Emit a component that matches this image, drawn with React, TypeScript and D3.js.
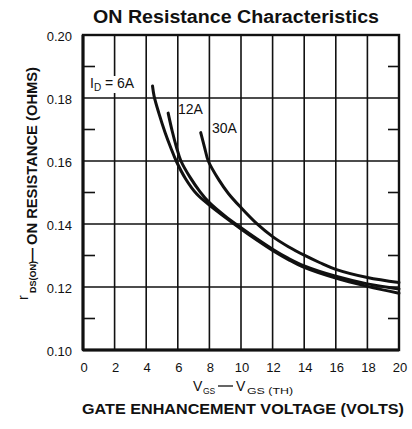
import React from "react";
import * as d3 from "d3";

type Pt = [number, number];

const xTicks = [0, 2, 4, 6, 8, 10, 12, 14, 16, 18, 20];
const yTicks = [0.1, 0.12, 0.14, 0.16, 0.18, 0.2];
const yMinorTicks = [0.11, 0.13, 0.15, 0.17, 0.19];

const series6A: Pt[] = [
  [4.4, 0.1838], [4.5, 0.1806], [4.8, 0.1752], [5.2, 0.169], [5.55, 0.1643],
  [5.9, 0.16], [6.5, 0.1543], [7.2, 0.1495], [8, 0.146], [9, 0.1421],
  [10, 0.1384], [11, 0.1349], [12, 0.1316], [13, 0.1287], [14, 0.1262],
  [16, 0.1228], [18, 0.1202], [20, 0.118],
];
const series12A: Pt[] = [
  [5.39, 0.1752], [5.64, 0.1696], [5.92, 0.1643], [6.2, 0.16], [6.78, 0.1548],
  [7.4, 0.1503], [8, 0.1468], [9, 0.1425], [10, 0.1388], [11, 0.1353],
  [12, 0.132], [13, 0.1291], [14, 0.1267], [16, 0.1234], [18, 0.121], [20, 0.1194],
];
const series30A: Pt[] = [
  [7.45, 0.169], [7.7, 0.1642], [7.93, 0.16], [8.6, 0.154], [9.2, 0.1497],
  [10, 0.1452], [11, 0.1401], [12, 0.136], [13, 0.1328], [14, 0.1301],
  [15, 0.1277], [16, 0.1256], [18, 0.123], [20, 0.1214],
];

const W = 412;
const H = 429;
const L = 83, R = 399, T = 35, B = 350;

export default function App() {
  const x = d3.scaleLinear().domain([0, 20]).range([L, R]);
  const y = d3.scaleLinear().domain([0.1, 0.2]).range([B, T]);
  const line = d3
    .line<Pt>()
    .x((d) => x(d[0]))
    .y((d) => y(d[1]))
    .curve(d3.curveCatmullRom.alpha(0.5));
  const font = "'Liberation Sans', Arial, Helvetica, sans-serif";
  const ink = "#111";
  return (
    <svg
      width={W}
      height={H}
      style={{ position: "absolute", left: 0, top: 0, background: "#fff" }}
      fontFamily={font}
    >
      <rect x={0} y={0} width={W} height={H} fill="#fff" />
      <text
        x={236}
        y={22.5}
        textAnchor="middle"
        fontWeight="bold"
        fontSize={17.5}
        textLength={286}
        lengthAdjust="spacingAndGlyphs"
        fill={ink}
      >
        ON Resistance Characteristics
      </text>

      {/* vertical grid */}
      {xTicks.map((t) => (
        <line key={"vx" + t} x1={x(t)} x2={x(t)} y1={T} y2={B} stroke={ink} strokeWidth={1.6} />
      ))}
      {/* horizontal grid */}
      {yTicks.map((t) => (
        <line key={"hy" + t} x1={L} x2={R} y1={y(t)} y2={y(t)} stroke={ink} strokeWidth={1.6} />
      ))}
      {yMinorTicks.map((t) => (
        <g key={"mt" + t}>
          <line x1={L} x2={L + 12} y1={y(t)} y2={y(t)} stroke={ink} strokeWidth={1.6} />
          <line x1={R - 11} x2={R} y1={y(t)} y2={y(t)} stroke={ink} strokeWidth={1.6} />
        </g>
      ))}
      {/* frame */}
      <rect x={L} y={T} width={R - L} height={B - T} fill="none" stroke={ink} strokeWidth={2.4} />
      <line x1={L} x2={L} y1={T} y2={B} stroke={ink} strokeWidth={3} />
      <line x1={L} x2={R} y1={B} y2={B} stroke={ink} strokeWidth={3} />

      {/* tick labels */}
      {yTicks.map((t) => (
        <text key={"yl" + t} x={72} y={y(t) + 5.5} textAnchor="end" fontSize={13} fill={ink}>
          {t.toFixed(2)}
        </text>
      ))}
      {xTicks.map((t) => (
        <text key={"xl" + t} x={x(t) + 1} y={372} textAnchor="middle" fontSize={13} fill={ink}>
          {t}
        </text>
      ))}

      {/* curves */}
      {[series6A, series12A, series30A].map((s, i) => (
        <path key={"c" + i} d={line(s) || ""} fill="none" stroke={ink} strokeWidth={3} strokeLinecap="round" />
      ))}

      {/* curve labels */}
      <rect x={88} y={76} width={54} height={17} fill="#fff" />
      <text x={90} y={88} fontSize={14} fill={ink}>
        I<tspan fontSize={10} dy={3}>D</tspan>
        <tspan dy={-3}> = 6A</tspan>
      </text>
      <text x={178} y={114} fontSize={14} fill={ink}>12A</text>
      <text x={212} y={133} fontSize={14} fill={ink}>30A</text>

      {/* x axis labels */}
      <text x={193} y={391} fontSize={14} fill={ink}>V</text>
      <text x={203} y={394} fontSize={8.5} fill={ink}>GS</text>
      <line x1={218} x2={233} y1={386} y2={386} stroke={ink} strokeWidth={1.3} />
      <text x={236} y={391} fontSize={14} fill={ink}>V</text>
      <text x={247} y={394} fontSize={9.5} fill={ink} textLength={46} lengthAdjust="spacingAndGlyphs">GS (TH)</text>
      <text
        x={243}
        y={413.5}
        textAnchor="middle"
        fontWeight="bold"
        fontSize={14.5}
        textLength={322}
        lengthAdjust="spacingAndGlyphs"
        fill={ink}
      >
        GATE ENHANCEMENT VOLTAGE (VOLTS)
      </text>

      {/* y axis label */}
      <g transform="translate(37,0) rotate(-90)" fill={ink}>
        <text x={-300} y={-9} fontSize={14}>r</text>
        <text x={-293} y={-1} fontSize={9} fontWeight="bold">DS(ON)</text>
        <text x={-262} y={0} fontSize={14} fontWeight="bold">—</text>
        <text x={-245} y={0} fontSize={14} fontWeight="bold" textLength={178} lengthAdjust="spacingAndGlyphs">
          ON RESISTANCE (OHMS)
        </text>
      </g>
    </svg>
  );
}
